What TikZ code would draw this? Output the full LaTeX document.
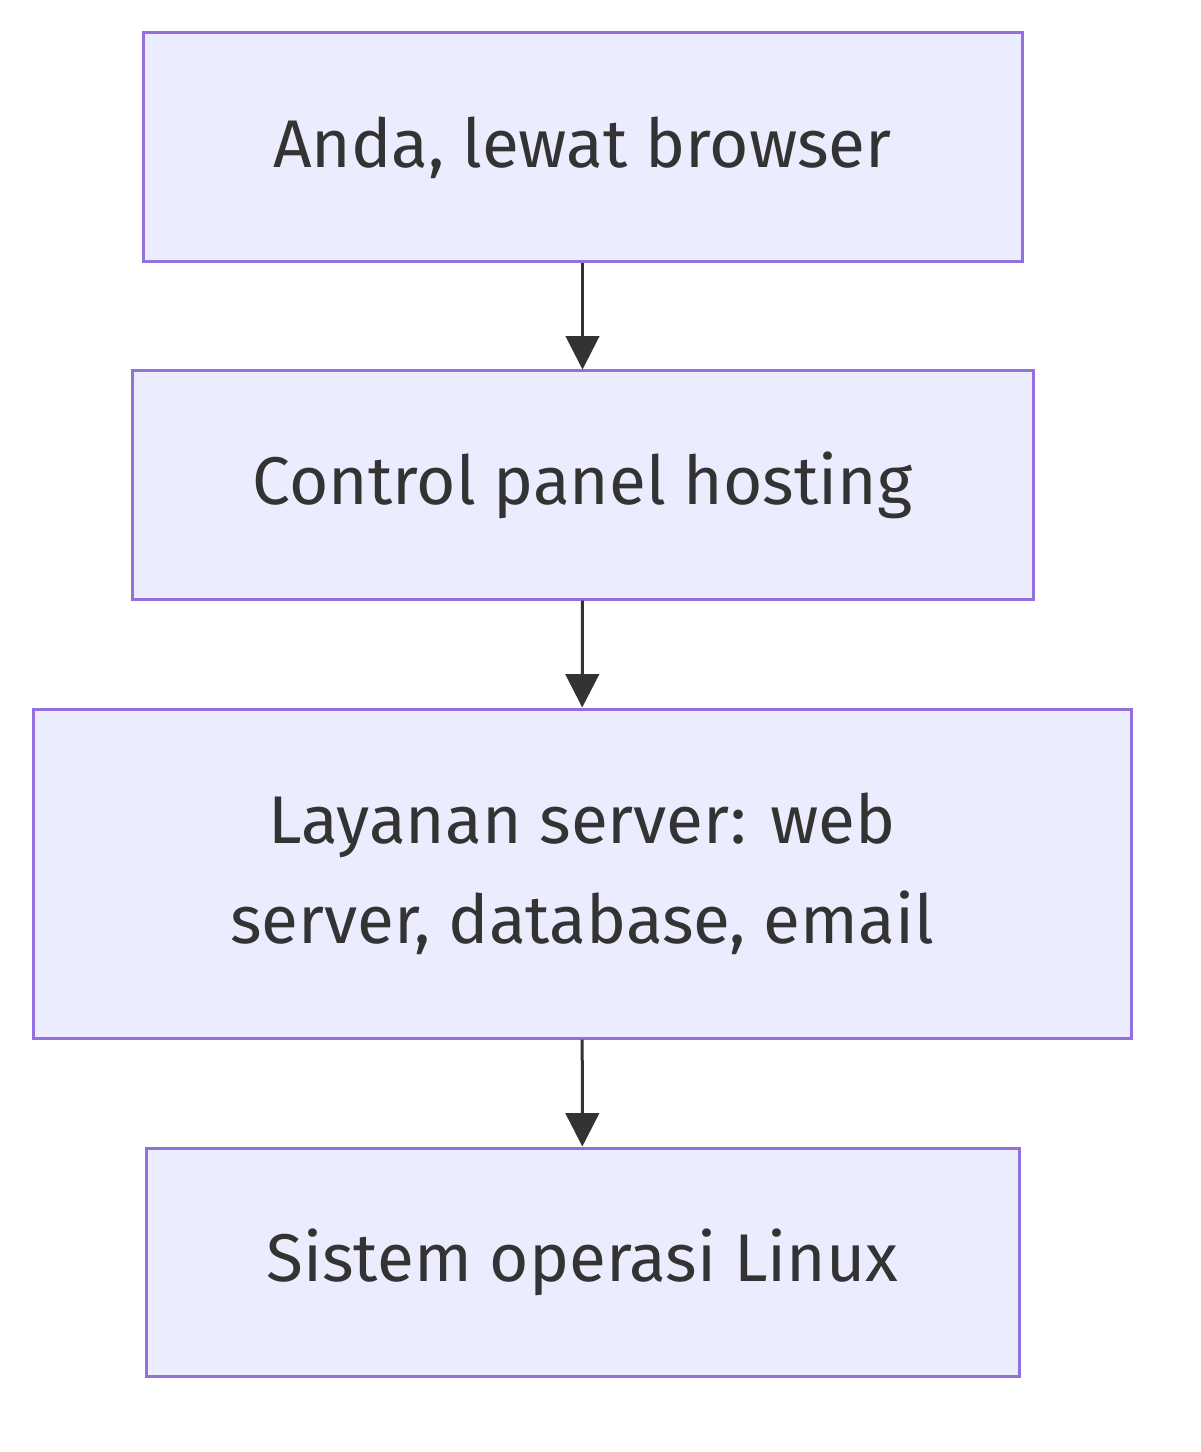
\documentclass[tikz,border=0pt]{standalone}
\usepackage{fontspec}
\setmainfont{Fira Sans}
\usetikzlibrary{arrows.meta,positioning}
\definecolor{boxfill}{HTML}{ECECFF}
\definecolor{boxline}{HTML}{9370DB}
\definecolor{ink}{HTML}{333333}
\tikzset{
	box/.style={draw=boxline, fill=boxfill, line width=1.8pt, text=ink,
		font=\fontsize{40.5}{60}\selectfont, align=center, inner sep=0pt},
	flow/.style={draw=ink, line width=1.8pt, -{Triangle[length=20pt,width=20pt]}}
}
\begin{document}
\begin{tikzpicture}[x=0.6pt,y=-0.6pt]
	\useasboundingbox (0,0) rectangle (1200,1452);
	% boxes
	\node[box, minimum width=879*0.6pt, minimum height=229*0.6pt] (browser) at (582.5,147.5) {Anda, lewat browser};
	\node[box, minimum width=901*0.6pt, minimum height=228*0.6pt] (panel) at (582.5,485) {Control panel hosting};
	\node[box, minimum width=1098*0.6pt, minimum height=329*0.6pt] (layanan) at (582,873.5) {Layanan server: web\\server, database, email};
	\node[box, minimum width=873*0.6pt, minimum height=228*0.6pt] (linux) at (582.5,1262) {Sistem operasi Linux};
	% arrows
	\draw[flow] (browser) -- (panel);
	\draw[flow] (panel) -- (layanan);
	\draw[flow] (layanan) -- (linux);
\end{tikzpicture}
\end{document}
